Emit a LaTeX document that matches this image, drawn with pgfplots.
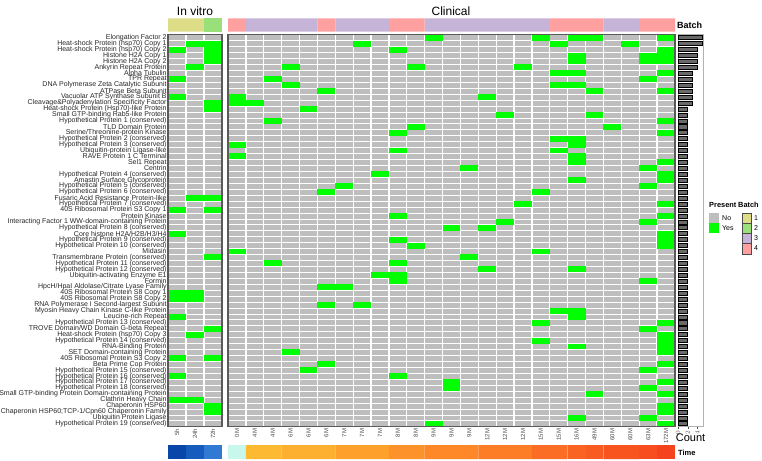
\documentclass[border=0pt]{standalone}
\usepackage{fontspec}
\setmainfont{Liberation Sans}
\setsansfont{Liberation Sans}
\usepackage{pgfplots}
\pgfplotsset{compat=1.18}

% palette
\definecolor{cellgray}{RGB}{190,190,190}
\definecolor{present}{RGB}{0,255,0}
\definecolor{panelframe}{RGB}{90,90,90}
\definecolor{countbar}{RGB}{105,105,105}
\definecolor{batchA}{RGB}{221,221,136}
\definecolor{batchB}{RGB}{153,224,122}
\definecolor{batchC}{RGB}{197,180,216}
\definecolor{batchD}{RGB}{255,160,160}
\definecolor{tH5}{RGB}{8,70,170}
\definecolor{tH24}{RGB}{22,92,190}
\definecolor{tH72}{RGB}{48,122,212}
\definecolor{tM0}{RGB}{200,248,236}
\definecolor{tM4}{RGB}{253,185,50}
\definecolor{tM6}{RGB}{253,175,47}
\definecolor{tM7}{RGB}{253,160,44}
\definecolor{tM8}{RGB}{253,145,42}
\definecolor{tM9}{RGB}{254,136,40}
\definecolor{tM12}{RGB}{253,124,38}
\definecolor{tM15}{RGB}{251,108,36}
\definecolor{tM16}{RGB}{250,100,35}
\definecolor{tM49}{RGB}{249,92,33}
\definecolor{tM60}{RGB}{248,84,32}
\definecolor{tM63}{RGB}{247,77,31}
\definecolor{tM172}{RGB}{245,67,29}

% one heatmap cell (width = panel width / columns, height = 392pt / 66 rows)
\pgfdeclareplotmark{vitrocell}{\pgfpathrectangle{\pgfpoint{-9pt}{-2.97pt}}{\pgfpoint{18pt}{5.94pt}}\pgfusepathqfill}
\pgfdeclareplotmark{cliniccell}{\pgfpathrectangle{\pgfpoint{-8.94pt}{-2.97pt}}{\pgfpoint{17.88pt}{5.94pt}}\pgfusepathqfill}

\tikzset{
  rowsep/.style={white, line width=0.6pt},
  colsep/.style={white, line width=1.3pt},
}
\pgfplotsset{
  heat/.style={
    scale only axis, height=392pt, ymin=0.5, ymax=66.5,
    axis background/.style={fill=cellgray},
    axis line style={draw=none},
    major tick length=0pt,
    xticklabel style={rotate=90, anchor=east, font=\fontsize{6}{6}\selectfont, text=black!70, inner sep=2pt},
  },
  strip/.style={scale only axis, hide axis, ymin=0, ymax=1},
  block/.style={ybar, bar width=1, bar shift=0pt, draw=none, fill=#1},
}

\begin{document}
\begin{tikzpicture}
\useasboundingbox (0,0) rectangle (762pt,460pt);

% ---------- in vitro presence panel ----------
\begin{axis}[heat, name=vitro, at={(168pt,33.3pt)}, anchor=south west, width=54pt,
  xmin=0.5, xmax=3.5, xtick={1,2,3}, xticklabels={5h,24h,72h},
  ytick={1,...,66},
  yticklabels={
    Hypothetical Protein 19 (conserved),
    Ubiquitin Protein Ligase,
    Chaperonin HSP60;TCP-1/Cpn60 Chaperonin Family,
    Chaperonin HSP60,
    Clathrin Heavy Chain,
    Small GTP-binding Protein Domain-containing Protein,
    Hypothetical Protein 18 (conserved),
    Hypothetical Protein 17 (conserved),
    Hypothetical Protein 16 (conserved),
    Hypothetical Protein 15 (conserved),
    Beta Prime Cop Protein,
    40S Ribosomal Protein S3 Copy 2,
    SET Domain-containing Protein,
    RNA-Binding Protein,
    Hypothetical Protein 14 (conserved),
    Heat-shock Protein (hsp70) Copy 3,
    TROVE Domain/WD Domain G-beta Repeat,
    Hypothetical Protein 13 (conserved),
    Leucine-rich Repeat,
    Myosin Heavy Chain Kinase C-like Protein,
    RNA Polymerase I Second-largest Subunit,
    40S Ribosomal Protein S8 Copy 2,
    40S Ribosomal Protein S8 Copy 1,
    HpcH/HpaI Aldolase/Citrate Lyase Family,
    Formin,
    Ubiquitin-activating Enzyme E1,
    Hypothetical Protein 12 (conserved),
    Hypothetical Protein 11 (conserved),
    Transmembrane Protein (conserved),
    Midasin,
    Hypothetical Protein 10 (conserved),
    Hypothetical Protein 9 (conserved),
    Core histone H2A/H2B/H3/H4,
    Hypothetical Protein 8 (conserved),
    Interacting Factor 1 WW-domain-containing Protein,
    Protein Kinase,
    40S Ribosomal Protein S3 Copy 1,
    Hypothetical Protein 7 (conserved),
    Fusaric Acid Resistance Protein-like,
    Hypothetical Protein 6 (conserved),
    Hypothetical Protein 5 (conserved),
    Amastin Surface Glycoprotein,
    Hypothetical Protein 4 (conserved),
    Centrin,
    Sel1 Repeat,
    RAVE Protein 1 C Terminal,
    Ubiquitin-protein Ligase-like,
    Hypothetical Protein 3 (conserved),
    Hypothetical Protein 2 (conserved),
    Serine/Threonine-protein Kinase,
    TLD Domain Protein,
    Hypothetical Protein 1 (conserved),
    Small GTP-binding Rab5-like Protein,
    Heat-shock Protein (Hsp70)-like Protein,
    Cleavage\&Polyadenylation Specificity Factor,
    Vacuolar ATP Synthase Subunit B,
    ATPase Beta Subunit,
    DNA Polymerase Zeta Catalytic Subunit,
    TPR Repeat,
    Alpha Tubulin,
    Ankyrin Repeat Protein,
    Histone H2A Copy 2,
    Histone H2A Copy 1,
    Heat-shock Protein (hsp70) Copy 2,
    Heat-shock Protein (hsp70) Copy 1,
    Elongation Factor 2},
  yticklabel style={font=\fontsize{7}{7}\selectfont, text=black!85, inner sep=1.2pt},
]
% c = sample column, r = gene row (1 = top)
\addplot[present, only marks, mark=vitrocell]
  table[row sep=\\, x=c, y expr=67-\thisrow{r}] {
  c r\\ 2 2\\ 3 2\\ 1 3\\ 3 3\\ 3 4\\ 3 5\\ 2 6\\ 1 8\\ 1 11\\ 3 12\\ 3 13\\
  2 28\\ 3 28\\ 1 30\\ 3 30\\ 1 34\\ 3 38\\ 1 44\\ 2 44\\ 1 45\\ 2 45\\
  1 48\\ 3 50\\ 2 51\\ 1 55\\ 3 55\\ 1 58\\ 1 62\\ 2 62\\ 3 63\\ 3 64\\
  };
% white cell separators
\pgfplotsinvokeforeach{1.5,2.5,...,65.5}{\draw[rowsep] (axis cs:0.5,#1) -- (axis cs:3.5,#1);}
\draw[colsep] (axis cs:1.5,0.5) -- (axis cs:1.5,66.5);
\draw[colsep] (axis cs:2.5,0.5) -- (axis cs:2.5,66.5);
\end{axis}
\draw[panelframe, line width=1.1pt] (vitro.south west) rectangle (vitro.north east);

% ---------- clinical presence panel ----------
\begin{axis}[heat, name=clinic, at={(228pt,33.3pt)}, anchor=south west, width=447pt,
  xmin=0.5, xmax=25.5, xtick={1,...,25},
  xticklabels={0M,4M,4M,6M,6M,6M,7M,7M,7M,8M,8M,9M,9M,9M,12M,12M,12M,15M,15M,16M,49M,60M,60M,63M,172M},
  ytick=\empty,
]
\addplot[present, only marks, mark=cliniccell]
  table[row sep=\\, x=c, y expr=67-\thisrow{r}] {
  c r\\
  12 1\\ 18 1\\ 20 1\\ 21 1\\ 25 1\\
  8 2\\ 19 2\\ 23 2\\
  10 3\\ 25 3\\
  20 4\\ 24 4\\ 25 4\\
  20 5\\ 24 5\\ 25 5\\
  4 6\\ 11 6\\ 17 6\\
  19 7\\ 20 7\\ 25 7\\
  3 8\\ 24 8\\
  4 9\\ 19 9\\ 20 9\\
  6 10\\ 21 10\\ 25 10\\
  1 11\\ 15 11\\
  1 12\\ 2 12\\
  5 13\\
  16 14\\ 21 14\\
  3 15\\ 25 15\\
  11 16\\ 22 16\\
  10 17\\ 25 17\\
  19 18\\ 20 18\\
  1 19\\ 20 19\\
  10 20\\ 19 20\\
  1 21\\ 20 21\\
  20 22\\ 25 22\\
  14 23\\ 24 23\\
  9 24\\ 25 24\\
  20 25\\ 25 25\\
  7 26\\ 24 26\\
  6 27\\ 18 27\\
  17 29\\ 25 29\\
  10 31\\ 25 31\\
  16 32\\ 24 32\\
  13 33\\ 15 33\\
  25 34\\
  10 35\\ 25 35\\
  11 36\\ 25 36\\
  1 37\\ 18 37\\
  14 38\\
  3 39\\ 10 39\\
  15 40\\ 20 40\\
  9 41\\ 10 41\\
  10 42\\ 24 42\\
  6 43\\ 7 43\\
  6 46\\ 8 46\\
  19 47\\ 20 47\\
  20 48\\
  18 49\\ 25 49\\
  24 50\\
  25 51\\
  18 52\\ 25 52\\
  20 53\\ 25 53\\
  4 54\\ 25 54\\
  6 56\\ 25 56\\
  5 57\\ 24 57\\
  10 58\\
  13 59\\ 25 59\\
  13 60\\ 24 60\\
  21 61\\ 25 61\\
  25 63\\
  25 64\\
  20 65\\ 24 65\\
  12 66\\ 25 66\\
  };
% white cell separators
\pgfplotsinvokeforeach{1.5,2.5,...,65.5}{\draw[rowsep] (axis cs:0.5,#1) -- (axis cs:25.5,#1);}
\pgfplotsinvokeforeach{1,...,24}{\draw[colsep] (axis cs:#1+0.5,0.5) -- (axis cs:#1+0.5,66.5);}
\end{axis}
\draw[panelframe, line width=1.1pt] (clinic.south west) rectangle (clinic.north east);

% ---------- number of samples per gene ----------
\begin{axis}[scale only axis, at={(678pt,33.3pt)}, anchor=south west,
  width=25pt, height=392pt,
  xmin=0, xmax=5.15, ymin=0.5, ymax=66.5, ytick=\empty, xtick={0,2,4},
  axis line style={draw=gray!60, line width=0.8pt},
  tick style={draw=black!70, line width=0.4pt}, major tick length=2pt, tick align=outside,
  xtick pos=bottom,
  xticklabel style={rotate=90, anchor=east, font=\fontsize{6}{6}\selectfont, text=black!70, inner sep=1.5pt},
  xlabel={Count}, xlabel style={font=\fontsize{11}{11}\selectfont, inner sep=0pt, yshift=2pt},
]
\addplot[xbar, bar width=0.68, bar shift=0pt, fill=countbar, draw=black, line width=0.5pt]
  table[row sep=\\, x=n, y expr=67-\thisrow{r}] {
  r n\\ 1 5\\ 2 5\\ 3 4\\ 4 4\\ 5 4\\ 6 4\\ 7 3\\ 8 3\\ 9 3\\ 10 3\\ 11 3\\ 12 3\\
  13 2\\ 14 2\\ 15 2\\ 16 2\\ 17 2\\ 18 2\\ 19 2\\ 20 2\\ 21 2\\ 22 2\\ 23 2\\ 24 2\\
  25 2\\ 26 2\\ 27 2\\ 28 2\\ 29 2\\ 30 2\\ 31 2\\ 32 2\\ 33 2\\ 34 2\\ 35 2\\ 36 2\\
  37 2\\ 38 2\\ 39 2\\ 40 2\\ 41 2\\ 42 2\\ 43 2\\ 44 2\\ 45 2\\ 46 2\\ 47 2\\ 48 2\\
  49 2\\ 50 2\\ 51 2\\ 52 2\\ 53 2\\ 54 2\\ 55 2\\ 56 2\\ 57 2\\ 58 2\\ 59 2\\ 60 2\\
  61 2\\ 62 2\\ 63 2\\ 64 2\\ 65 2\\ 66 2\\
  };
\end{axis}

% ---------- batch annotation ----------
\begin{axis}[strip, at={(168pt,428.3pt)}, anchor=south west, width=54pt, height=13.4pt,
  xmin=0.5, xmax=3.5]
\addplot[block=batchA] coordinates {(1,1) (2,1)};
\addplot[block=batchB] coordinates {(3,1)};
\end{axis}
\begin{axis}[strip, at={(228pt,428.3pt)}, anchor=south west, width=447pt, height=13.4pt,
  xmin=0.5, xmax=25.5]
\addplot[block=batchC] coordinates {(2,1) (3,1) (4,1) (5,1) (7,1) (8,1) (9,1)
  (12,1) (13,1) (14,1) (15,1) (16,1) (17,1) (18,1) (22,1) (23,1)};
\addplot[block=batchD] coordinates {(1,1) (6,1) (10,1) (11,1) (19,1) (20,1) (21,1) (24,1) (25,1)};
\end{axis}

% ---------- time annotation ----------
\begin{axis}[strip, at={(168pt,1pt)}, anchor=south west, width=54pt, height=14pt,
  xmin=0.5, xmax=3.5]
\addplot[block=tH5] coordinates {(1,1)};
\addplot[block=tH24] coordinates {(2,1)};
\addplot[block=tH72] coordinates {(3,1)};
\end{axis}
\begin{axis}[strip, at={(228pt,1pt)}, anchor=south west, width=447pt, height=14pt,
  xmin=0.5, xmax=25.5]
\addplot[block=tM0] coordinates {(1,1)};
\addplot[block=tM4] coordinates {(2,1) (3,1)};
\addplot[block=tM6] coordinates {(4,1) (5,1) (6,1)};
\addplot[block=tM7] coordinates {(7,1) (8,1) (9,1)};
\addplot[block=tM8] coordinates {(10,1) (11,1)};
\addplot[block=tM9] coordinates {(12,1) (13,1) (14,1)};
\addplot[block=tM12] coordinates {(15,1) (16,1) (17,1)};
\addplot[block=tM15] coordinates {(18,1) (19,1)};
\addplot[block=tM16] coordinates {(20,1)};
\addplot[block=tM49] coordinates {(21,1)};
\addplot[block=tM60] coordinates {(22,1) (23,1)};
\addplot[block=tM63] coordinates {(24,1)};
\addplot[block=tM172] coordinates {(25,1)};
\end{axis}

% ---------- titles and annotation labels ----------
\node[font=\fontsize{12}{12}\selectfont] at (195pt,449pt) {In vitro};
\node[font=\fontsize{12}{12}\selectfont] at (451pt,449pt) {Clinical};
\node[anchor=west, inner sep=0pt, font=\bfseries\fontsize{9}{9}\selectfont] at (677pt,434.3pt) {Batch};
\node[anchor=west, inner sep=0pt, font=\bfseries\fontsize{7.5}{7.5}\selectfont] at (678pt,7.3pt) {Time};

% ---------- legends ----------
\begin{scope}[every node/.style={inner sep=0pt, anchor=west}]
\node[font=\bfseries\fontsize{7.4}{7.4}\selectfont] at (709pt,255pt) {Present};
\node[font=\bfseries\fontsize{7.4}{7.4}\selectfont] at (738pt,255pt) {Batch};
\fill[cellgray] (709pt,237pt) rectangle (719pt,246.5pt);
\fill[present] (709pt,227pt) rectangle (719pt,236.5pt);
\node[font=\fontsize{7}{7}\selectfont] at (722pt,241.7pt) {No};
\node[font=\fontsize{7}{7}\selectfont] at (722pt,231.7pt) {Yes};
\filldraw[fill=batchA, draw=black!70, line width=0.4pt] (742pt,237pt) rectangle (751pt,247pt);
\filldraw[fill=batchB, draw=black!70, line width=0.4pt] (742pt,227pt) rectangle (751pt,237pt);
\filldraw[fill=batchC, draw=black!70, line width=0.4pt] (742pt,217pt) rectangle (751pt,227pt);
\filldraw[fill=batchD, draw=black!70, line width=0.4pt] (742pt,206pt) rectangle (751pt,217pt);
\node[font=\fontsize{7}{7}\selectfont] at (754pt,242pt) {1};
\node[font=\fontsize{7}{7}\selectfont] at (754pt,232pt) {2};
\node[font=\fontsize{7}{7}\selectfont] at (754pt,222pt) {3};
\node[font=\fontsize{7}{7}\selectfont] at (754pt,211.5pt) {4};
\end{scope}
\end{tikzpicture}
\end{document}
